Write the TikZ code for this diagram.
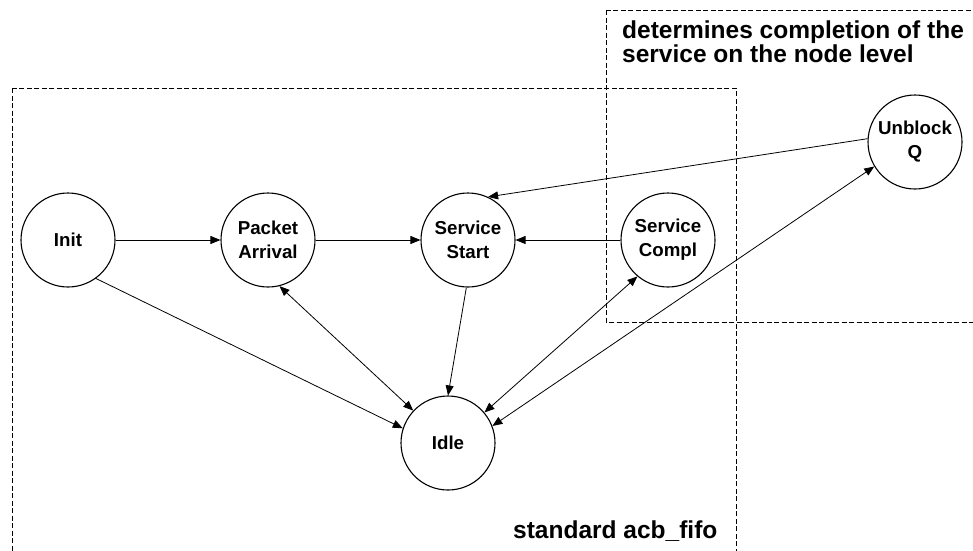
\documentclass[tikz,border=0pt]{standalone}
\usepackage{fontspec}
\setmainfont{Liberation Sans}
\usetikzlibrary{arrows.meta}
\begin{document}
\begin{tikzpicture}[x=1pt,y=-1pt,
  state/.style={circle,draw,line width=1.1pt,minimum size=94pt,inner sep=0pt,align=center,font=\fontsize{18.7}{24}\selectfont\bfseries},
  conn/.style={line width=0.8pt,-{Triangle[length=10pt,width=8pt]}},
  biconn/.style={line width=0.8pt,{Triangle[length=10pt,width=8pt]}-{Triangle[length=10pt,width=8pt]}},
  region/.style={draw,line width=0.9pt,dash pattern=on 5pt off 2.5pt},
  lbl/.style={font=\fontsize{24.5}{25}\selectfont\bfseries,anchor=base west,inner sep=0pt}]
\useasboundingbox (0,0) rectangle (973,550);
\draw[region] (12,88) rectangle (736,570);
\draw[region] (606,10) rectangle (990,322);
\node[lbl] (t1) at (622,38) {determines completion of the};
\node[lbl] (t2) at (622,62) {service on the node level};
\node[lbl] (t3) at (513,538) {standard acb\_fifo};
\node[state] (init) at (68,240) {Init};
\node[state] (pa) at (268,240) {Packet\\Arrival};
\node[state] (ss) at (468,240) {Service\\Start};
\node[state] (sc) at (668,240) {Service\\Compl};
\node[state] (uq) at (915,142) {Unblock\\Q};
\node[state] (idle) at (448,443) {Idle};
\draw[conn] (init) -- (pa);
\draw[conn] (pa) -- (ss);
\draw[conn] (sc) -- (ss);
\draw[conn] (uq.176) -- (ss.65);
\draw[conn] (init.-54) -- (idle.162);
\draw[biconn] (pa.-76) -- (idle.137);
\draw[conn] (ss.-92) -- (idle.north);
\draw[biconn] (sc.-130) -- (idle.40);
\draw[biconn] (uq.-149) -- (idle.21);
\end{tikzpicture}
\end{document}
